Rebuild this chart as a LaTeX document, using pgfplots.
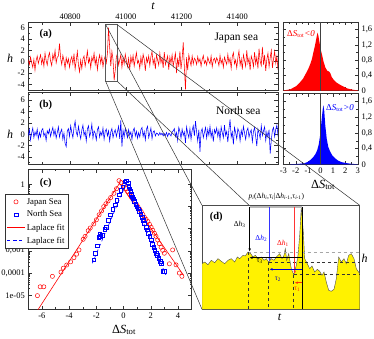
\documentclass[border=0pt]{standalone}
\usepackage{pgfplots}
\pgfplotsset{compat=1.18}
\usepackage{fontspec}
\setmainfont{Liberation Serif}
\usetikzlibrary{arrows.meta}
\newcommand{\DS}{Δ\textit{S}\textsubscript{tot}}
\begin{document}
\begin{tikzpicture}[x=1bp,y=1bp]
\path[use as bounding box] (0,0) rectangle (374,339);
\pgfplotsset{
  every axis/.append style={
    scale only axis,
    font=\fontsize{8.5}{9}\selectfont,
    /pgf/number format/assume math mode=true,
    /pgf/number format/1000 sep={},
    scaled ticks=false,
    axis line style={black!80},
    every tick/.style={black!80},
    major tick length=3.5bp,
    minor tick length=2bp,
  },
}
% ---------------- (a) Japan sea
\begin{axis}[
  at={(28.3bp,248.3bp)}, anchor=south west, width=249.7bp, height=68bp,
  xmin=40650, xmax=41546, ymin=-5.12, ymax=6.88,
  xtick={40800,41000,41200,41400}, minor xtick={40700,40900,41100,41300,41500},
  xtick pos=both, xticklabel pos=upper,
  ytick={-4,-2,0,2,4,6}, minor ytick={-5,-3,-1,1,3,5},
  xlabel={\textit{t}}, ylabel={\textit{h}},
  every axis x label/.style={at={(axis description cs:0.5,1.25)}, anchor=center, font=\fontsize{12}{12}\selectfont},
  every axis y label/.style={at={(axis description cs:-0.073,0.48)}, anchor=center, font=\fontsize{12}{12}\selectfont},
]
\addplot[red, line width=0.55bp] table[x expr={40650+4*\coordindex}, y index=0, header=false, row sep=\\] {
0.3\\-0.5\\0.8\\-0.2\\-1.0\\0.4\\-1.5\\0.2\\1.0\\-0.3\\
0.5\\1.2\\-0.4\\0.6\\-0.8\\1.5\\0.2\\-0.6\\0.9\\1.6\\
0.1\\-0.7\\1.3\\0.4\\2.0\\-0.2\\0.8\\1.0\\3.2\\0.6\\
-0.5\\1.1\\0.2\\-1.2\\0.7\\-0.3\\0.5\\-1.0\\0.3\\0.9\\
-0.4\\1.4\\-1.3\\0.2\\1.8\\-0.6\\-1.8\\0.3\\-1.2\\0.5\\
1.0\\-0.8\\0.4\\1.9\\-0.2\\0.6\\-1.1\\0.8\\0.1\\1.5\\
-0.5\\0.7\\-1.4\\0.3\\1.2\\-0.3\\0.9\\-0.9\\0.4\\1.0\\
-0.2\\1.5\\6.0\\2.5\\-0.8\\1.8\\0.4\\-3.3\\-1.5\\0.8\\
1.5\\-0.6\\0.3\\1.2\\-1.0\\0.7\\-0.4\\1.3\\0.2\\-0.9\\
0.6\\-1.4\\0.9\\-0.2\\1.1\\-0.8\\0.5\\1.6\\-0.3\\0.2\\
-1.2\\0.8\\-0.5\\1.3\\0.4\\-1.6\\0.7\\-0.1\\1.0\\-0.7\\
0.9\\1.8\\-0.4\\0.5\\-1.3\\1.2\\0.3\\-0.6\\1.5\\-0.2\\
0.6\\-1.1\\1.7\\-0.5\\0.2\\1.0\\-1.4\\0.8\\-0.3\\1.2\\
-0.8\\0.4\\1.5\\-2.0\\0.7\\-0.9\\1.8\\-1.3\\0.5\\3.4\\
-1.0\\-4.9\\0.8\\-1.5\\1.2\\0.2\\-0.7\\1.0\\-0.4\\0.6\\
0.3\\-0.5\\0.9\\-0.1\\0.5\\-0.8\\0.4\\1.1\\-0.3\\0.2\\
-0.6\\0.8\\0.1\\-0.4\\1.0\\-0.9\\0.3\\0.6\\-0.2\\0.7\\
0.2\\-0.7\\1.1\\-0.3\\0.4\\-1.0\\0.8\\0.1\\-0.5\\1.3\\
-0.2\\0.6\\-1.2\\0.9\\1.6\\-0.4\\0.3\\-1.1\\0.7\\1.9\\
-0.6\\0.5\\-1.4\\1.2\\0.2\\-0.8\\2.0\\-0.3\\0.6\\-1.5\\
1.0\\0.3\\-0.9\\1.7\\-0.4\\0.8\\-1.2\\2.3\\0.1\\-0.7\\
2.6\\-0.5\\1.2\\-1.6\\0.4\\1.5\\-0.9\\0.7\\2.0\\-1.1\\
0.5\\1.8\\-0.3\\0.9\\-1.4\\0.6\\
};
\draw[black!65, line width=0.9bp] (axis cs:40928,-3.5) rectangle (axis cs:40970,6.5);
\coordinate (zTL) at (axis cs:40928,6.5);
\coordinate (zTR) at (axis cs:40970,6.5);
\coordinate (zBL) at (axis cs:40928,-3.5);
\coordinate (zBR) at (axis cs:40970,-3.5);
\end{axis}
% ---------------- (b) North sea
\begin{axis}[
  at={(28.3bp,174.7bp)}, anchor=south west, width=249.7bp, height=72bp,
  xmin=40650, xmax=41546, ymin=-5.3, ymax=7.4,
  xtick={40800,41000,41200,41400}, minor xtick={40700,40900,41100,41300,41500},
  xticklabels={},
  ytick={-4,-2,0,2,4,6}, minor ytick={-5,-3,-1,1,3,5,7},
  ylabel={\textit{h}},
  every axis y label/.style={at={(axis description cs:-0.073,0.41)}, anchor=center, font=\fontsize{12}{12}\selectfont},
]
\addplot[blue, line width=0.55bp] table[x expr={40650+4*\coordindex}, y index=0, header=false, row sep=\\] {
-0.3\\0.8\\-1.0\\0.2\\1.1\\-0.6\\0.4\\-0.2\\0.9\\-0.8\\
0.3\\-0.5\\0.7\\1.0\\-0.3\\0.2\\-1.1\\0.6\\0.1\\0.9\\
-0.4\\0.5\\1.2\\-0.2\\0.8\\-0.7\\0.3\\1.3\\-0.5\\0.4\\
0.9\\-0.9\\0.2\\-1.6\\-2.2\\0.6\\1.0\\-0.4\\1.5\\0.3\\
-0.6\\1.2\\2.3\\0.4\\-0.3\\1.4\\0.2\\-0.8\\0.7\\1.6\\
-0.2\\0.5\\-1.2\\0.9\\1.5\\-0.4\\0.3\\1.8\\-0.7\\0.6\\
0.2\\-1.0\\0.8\\1.3\\-0.5\\0.4\\-0.2\\1.1\\-0.9\\0.5\\
0.9\\-0.3\\0.6\\-1.2\\0.4\\1.0\\-0.6\\0.3\\0.8\\-0.4\\
0.5\\1.4\\-0.8\\2.5\\-2.2\\0.7\\-0.5\\1.0\\0.2\\-0.6\\
0.8\\-0.2\\0.4\\-0.9\\0.6\\1.1\\-0.3\\0.5\\-0.7\\0.3\\
-0.5\\0.8\\1.2\\-0.4\\0.5\\-1.0\\0.9\\1.4\\-0.6\\0.2\\
1.1\\-0.8\\0.4\\0.6\\-0.3\\0.2\\0.1\\-0.2\\0.3\\-0.1\\
0.2\\-0.3\\0.1\\-0.2\\0.3\\-0.4\\0.2\\0.0\\-0.3\\0.4\\
0.6\\1.0\\-0.4\\0.3\\-1.1\\1.2\\0.5\\-0.7\\0.9\\-0.2\\
0.4\\-1.5\\1.3\\0.2\\-0.6\\1.0\\-0.9\\0.7\\1.5\\-0.3\\
2.3\\0.4\\-1.2\\0.8\\-3.1\\0.5\\1.0\\-0.6\\0.3\\1.2\\
-0.7\\0.9\\-0.2\\1.4\\-0.5\\0.6\\-1.3\\0.8\\0.2\\1.1\\
-0.4\\0.7\\-1.0\\1.3\\0.3\\-0.6\\1.6\\-0.2\\0.5\\-1.4\\
0.9\\2.6\\-0.5\\0.4\\-1.8\\1.2\\0.3\\-0.8\\1.0\\0.5\\
-1.2\\0.7\\-0.3\\1.4\\0.2\\-0.9\\0.6\\1.1\\-0.5\\0.3\\
0.8\\-1.3\\0.5\\1.2\\-0.4\\-2.1\\0.9\\0.2\\-0.7\\1.5\\
-0.2\\0.6\\1.3\\-1.1\\0.4\\-0.5\\0.8\\-3.4\\-1.0\\0.7\\
1.2\\-0.4\\0.9\\1.6\\-0.2\\0.8\\
};
\end{axis}
% ---------------- histogram, DeltaS<0
\begin{axis}[
  at={(282.7bp,248.3bp)}, anchor=south west, width=75.3bp, height=68.7bp,
  xmin=-3.05, xmax=3.02, ymin=0, ymax=1.8,
  xtick={-3,-2,-1,0,1,2,3}, minor xtick={-2.5,-1.5,-0.5,0.5,1.5,2.5}, xticklabels={},
  ytick={0,0.4,0.8,1.2,1.6}, minor ytick={0.2,0.6,1.0,1.4},
  yticklabel pos=right, ytick pos=both,
  /pgf/number format/use comma,
]
\addplot[draw=none, fill=red] coordinates {
(-3.0,0.01) (-2.7,0.02) (-2.4,0.04) (-2.2,0.08) (-2.0,0.11) (-1.8,0.17) (-1.6,0.24)
(-1.4,0.32) (-1.25,0.41) (-1.1,0.5) (-0.95,0.6) (-0.85,0.68) (-0.7,0.82) (-0.58,1.0)
(-0.45,1.18) (-0.35,1.35) (-0.25,1.52) (-0.18,1.45) (-0.1,1.3) (0.0,1.1) (0.13,0.93)
(0.25,0.75) (0.4,0.6) (0.55,0.52) (0.7,0.5) (0.8,0.45) (0.9,0.36) (1.07,0.28) (1.3,0.21)
(1.6,0.15) (1.9,0.1) (2.15,0.06) (2.4,0.04) (2.7,0.02) (3.0,0.01)} \closedcycle;
\addplot[black!75, line width=0.6bp] coordinates {(0,0) (0,1.8)};
\end{axis}
% ---------------- histogram, DeltaS>0
\begin{axis}[
  at={(282.7bp,174.5bp)}, anchor=south west, width=75.3bp, height=71.2bp,
  xmin=-3.05, xmax=3.02, ymin=0, ymax=1.8,
  xtick={-3,-2,-1,0,1,2,3}, minor xtick={-2.5,-1.5,-0.5,0.5,1.5,2.5},
  ytick={0,0.4,0.8,1.2,1.6}, minor ytick={0.2,0.6,1.0,1.4},
  yticklabel pos=right, ytick pos=both,
  /pgf/number format/use comma,
]
\addplot[draw=none, fill=blue] coordinates {
(-2.5,0.005) (-1.8,0.015) (-1.3,0.03) (-1.0,0.07) (-0.8,0.12) (-0.6,0.18) (-0.4,0.27)
(-0.27,0.36) (-0.15,0.5) (-0.05,0.7) (0.0,0.83) (0.1,1.17) (0.18,1.4) (0.23,1.5)
(0.3,1.35) (0.38,1.0) (0.5,0.65) (0.62,0.45) (0.77,0.33) (0.95,0.23) (1.17,0.16)
(1.4,0.1) (1.7,0.06) (2.0,0.04) (2.4,0.02) (3.0,0.005)} \closedcycle;
\addplot[black!75, line width=0.6bp] coordinates {(0,0) (0,1.8)};
\end{axis}
% ---------------- (c) distributions
\begin{axis}[
  at={(28.3bp,30bp)}, anchor=south west, width=163.4bp, height=139.7bp,
  ymode=log, xmin=-7, xmax=5, ymin=2.4e-6, ymax=4.7,
  xtick={-6,-4,-2,0,2,4}, minor xtick={-7,-5,-3,-1,1,3,5},
  ytick={1e-5,1e-4,1e-3,1e-2,1e-1,1},
  yticklabels={1e-05,{0,0001},{0,001},{0,01},{0,1},1},
  xlabel={\DS},
  every axis x label/.style={at={(axis description cs:0.586,-0.15)}, anchor=center, font=\fontsize{12.5}{13}\selectfont},
  legend style={at={(-0.1426,0.823)}, anchor=north west, font=\fontsize{8.8}{9.5}\selectfont,
    draw=black!80, fill=white, inner sep=2bp, row sep=1.4bp},
  legend cell align=left,
]
\addplot[only marks, mark=o, red, mark size=2.1bp, line width=0.5bp] coordinates {
(-6.33,9.6e-6) (-6.13,2.4e-5) (-5.86,2.4e-5) (-5.23,7.1e-5) (-4.6,1.1e-4) (-4.43,1.66e-4)
(-4.18,2.3e-4) (-3.89,3.2e-4) (-3.65,4.9e-4) (-3.45,7.1e-4) (-3.28,1.1e-3) (-2.97,3.3e-3)
(-2.83,4.5e-3) (-2.6,8.1e-3) (-2.45,1.07e-2) (-2.19,1.62e-2) (-2.0,2.5e-2) (-1.8,4.2e-2)
(-1.62,6.3e-2) (-1.46,9.8e-2) (-1.3,0.132) (-1.14,0.178) (-0.95,0.251) (-0.71,0.389)
(-0.52,0.631) (-0.34,1.45) (-0.2,1.2) (0.05,0.891) (0.2,0.631) (0.32,0.468) (0.45,0.355)
(0.56,0.275) (0.7,0.209) (0.8,0.166) (0.93,0.126) (1.05,0.098) (1.17,0.076) (1.29,0.059)
(1.41,0.0437) (1.53,0.0324) (1.65,0.0263) (1.78,0.0209) (1.9,0.0155) (2.02,0.0115)
(2.14,0.0085) (2.26,0.0062) (2.38,0.0045) (2.5,0.0031) (2.62,0.0021) (2.75,0.00145)
(2.87,0.00105) (2.99,0.00078) (3.36,0.00026) (3.6,0.0011) (3.85,0.000234) (4.09,1e-4)
(4.28,7.1e-5)};
\addlegendentry{Japan Sea}
\addplot[only marks, mark=square, blue, mark size=1.8bp, line width=0.5bp] coordinates {
(-2.19,3.9e-4) (-2.07,7.8e-4) (-1.93,1.66e-3) (-1.83,4.1e-3) (-1.75,5.6e-3) (-1.7,4.4e-3)
(-1.57,5.1e-3) (-1.4,9.3e-3) (-1.28,1.15e-2) (-1.11,2.45e-2) (-0.96,4.2e-2) (-0.8,7.4e-2)
(-0.63,0.117) (-0.5,0.195) (-0.34,0.331) (-0.2,0.55) (-0.05,0.776) (0.07,1.29) (0.2,1.45)
(0.32,1.17) (0.39,0.776) (0.45,0.63) (0.52,0.468) (0.58,0.355) (0.64,0.275) (0.72,0.219)
(0.8,0.166) (0.88,0.126) (0.97,0.098) (1.07,0.079) (1.17,0.059) (1.27,0.0437) (1.36,0.0324)
(1.45,0.024) (1.53,0.0174) (1.65,0.0115) (1.74,0.0089) (1.82,0.0062) (1.92,0.0045)
(2.02,0.0031) (2.12,0.002) (2.21,0.00145) (2.3,0.00107) (2.38,7.8e-4) (2.48,6.3e-4)
(2.58,4.7e-4) (2.67,3.5e-4) (2.75,2.75e-4) (2.87,1.17e-4) (2.99,1.17e-4)};
\addlegendentry{North Sea}
\addplot[red, line width=0.6bp] coordinates {(-6.5,1.4e-6) (-0.3,1.1) (4.4,8e-5)};
\addlegendentry{Laplace fit}
\addplot[blue, dashed, line width=0.6bp] coordinates {(-2.3,2.75e-4) (0.2,1.1) (3.1,8.3e-5)};
\addlegendentry{Laplace fit}
\end{axis}
% ---------------- zoom lines
\draw[black!80, line width=0.5bp] (zTL) -- (202,133.7);
\draw[black!80, line width=0.5bp] (zTR) -- (359.7,133.7);
\draw[black!80, line width=0.5bp] (zBL) -- (202,29.7);
\draw[black!80, line width=0.5bp] (zBR) -- (359.7,29.7);
% ---------------- (d) schematic
\begin{axis}[
  at={(202bp,29.7bp)}, anchor=south west, width=157.7bp, height=104bp,
  xmin=202, xmax=359.7, ymin=29.7, ymax=133.7, xtick=\empty, ytick=\empty,
  axis background/.style={fill=white},
  axis line style={black!70, line width=0.6bp},
]
\addplot[draw=black!70, line width=0.4bp, fill=yellow] coordinates {
(202.0,75.3) (204.7,77.0) (208.0,74.3) (211.3,78.7) (214.7,76.3) (218.0,80.3) (221.3,77.7)
(224.7,75.3) (228.0,78.7) (231.3,80.3) (234.7,77.0) (237.3,82.0) (239.7,80.3) (243.0,83.7)
(245.3,83.0) (248.0,87.0) (250.7,85.3) (253.0,82.0) (255.3,83.7) (258.0,80.3) (261.3,82.0)
(264.0,78.7) (266.3,80.3) (268.7,77.0) (271.3,80.3) (274.0,78.7) (276.3,82.0) (279.7,85.3)
(282.0,80.3) (284.0,83.7) (285.3,90.3) (286.7,78.7) (288.7,85.3) (291.3,70.3) (293.7,64.3)
(296.3,73.7) (298.0,83.7) (299.7,103.7) (301.3,132.0) (303.3,107.0) (304.7,80.3) (307.3,75.3)
(309.7,70.3) (312.0,73.0) (314.7,67.0) (317.3,69.7) (319.7,67.7) (322.0,63.7) (324.0,67.0)
(326.3,57.0) (328.7,48.7) (331.3,47.7) (334.0,49.7) (336.3,60.3) (338.7,82.0) (341.3,77.0)
(344.0,80.3) (346.3,75.3) (348.7,83.7) (351.3,85.3) (354.0,80.3) (356.3,70.3) (359.7,65.3)}
\closedcycle;
\end{axis}
% schematic annotations
\draw[gray!70, dashed, line width=0.5bp] (248,87.0) -- (359.7,87.0);
\draw[black!80, dashed, line width=0.5bp] (268.7,76.5) -- (359.7,76.5);
\draw[black!80, dashed, line width=0.5bp] (293.7,64.3) -- (359.7,64.3);
\draw[black!80, dashed, line width=0.5bp] (248,87.0) -- (248,29.7);
\draw[black!80, dashed, line width=0.5bp] (268.7,77.0) -- (268.7,29.7);
\draw[black!80, dashed, line width=0.5bp] (293.7,64.3) -- (293.7,29.7);
\draw[black, line width=0.6bp] (302.3,132) -- (302.3,29.7);
\draw[gray!55, line width=1.4bp] (249.7,132) -- (302.3,132);
\draw[black, line width=0.6bp, -{Stealth[length=3bp,width=2.5bp]}] (249.7,132) -- (249.7,87.7);
\draw[blue!80, line width=0.6bp, -{Stealth[length=3bp,width=2.5bp]}] (269.7,132) -- (269.7,77.7);
\draw[red!80, line width=0.6bp, -{Stealth[length=3bp,width=2.5bp]}] (294.7,132) -- (294.7,65.3);
\draw[black, line width=0.6bp, -{Stealth[length=3bp,width=2.5bp]}] (302.3,81.3) -- (249.7,81.3);
\draw[blue!80!black, line width=0.6bp, -{Stealth[length=3bp,width=2.5bp]}] (302.3,69.7) -- (269.7,69.7);
\draw[red!60!orange, line width=0.6bp, -{Stealth[length=3bp,width=2.5bp]}] (302.3,56.3) -- (295,56.3);
\begin{scope}[every node/.style={font=\fontsize{7.5}{8}\selectfont, inner sep=0.5bp}]
\node at (239.7,114.7) {Δ\textit{h}\textsubscript{3}};
\node[blue] at (261.3,100.3) {Δ\textit{h}\textsubscript{2}};
\node[red] at (283,95.3) {Δ\textit{h}\textsubscript{1}};
\node at (259.7,77.7) {τ\textsubscript{3}};
\node[blue!70!black] at (278,59.7) {τ\textsubscript{2}};
\node[red!60!orange] at (297.3,49.7) {τ\textsubscript{1}};
\node at (276.3,142) {\textit{p}\textsubscript{\textit{i}}(Δ\textit{h}\textsubscript{\textit{i}},τ\textsubscript{\textit{i}}|Δ\textit{h}\textsubscript{\textit{i}-1},τ\textsubscript{\textit{i}-1})};
\end{scope}
% ---------------- texts
\node[font=\bfseries\fontsize{10.5}{11}\selectfont] at (45.8,305) {(a)};
\node[font=\bfseries\fontsize{10.5}{11}\selectfont] at (45.8,233.7) {(b)};
\node[font=\bfseries\fontsize{10.5}{11}\selectfont] at (45.7,155.7) {(c)};
\node[font=\bfseries\fontsize{10.5}{11}\selectfont] at (216.3,122) {(d)};
\node[font=\fontsize{11.5}{12}\selectfont] at (236.3,301.3) {Japan sea};
\node[font=\fontsize{11.5}{12}\selectfont] at (238.3,228.7) {North sea};
\node[red, font=\fontsize{9}{10}\selectfont] at (301,305) {Δ\textit{S}\textsubscript{tot}\textit{<0}};
\node[blue, font=\fontsize{9}{10}\selectfont] at (340,231) {Δ\textit{S}\textsubscript{tot}\textit{>0}};
\node[font=\fontsize{12.5}{13}\selectfont] at (323,154) {\DS};
\node[font=\fontsize{12}{12}\selectfont] at (364.7,80.3) {\textit{h}};
\node[font=\fontsize{12}{12}\selectfont] at (279.7,22) {\textit{t}};
\end{tikzpicture}
\end{document}
